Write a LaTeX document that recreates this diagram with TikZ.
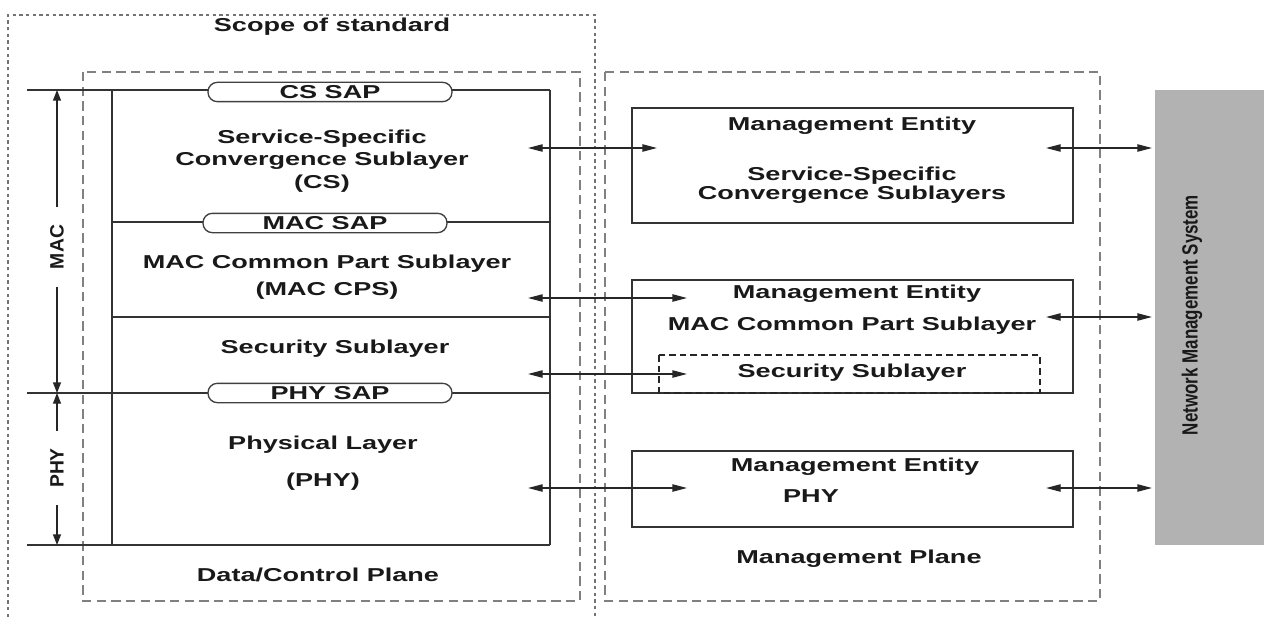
\documentclass[tikz,border=0pt]{standalone}
\usepackage{fontspec}
\setmainfont{Liberation Sans}
\newfontfamily\wideface{Liberation Sans}[FakeStretch=1.45]
\newfontfamily\narrowface{Liberation Sans}[FakeStretch=0.77]
\usetikzlibrary{arrows.meta}

\begin{document}
\begin{tikzpicture}[x=0.75pt,y=0.75pt,yscale=-1,xscale=1,
  txt/.style={inner sep=0.75pt,align=center,text=black!90,font=\wideface\bfseries\fontsize{14}{17}\selectfont},
  sap/.style={txt,draw=black!75,fill=white,line width=1pt,rounded corners=7pt,minimum width=183pt,minimum height=14.5pt,inner sep=0pt},
  dimlbl/.style={rotate=90,inner xsep=13pt,inner ysep=0pt,text=black!90,font=\bfseries\fontsize{14.5}{17}\selectfont},
  nmstxt/.style={rotate=90,inner sep=0.75pt,text=black!90,font=\narrowface\bfseries\fontsize{16.5}{19}\selectfont},
  scopeline/.style={draw=black!55,line width=2.2pt,dash pattern=on 2.5pt off 2.5pt},
  planeline/.style={draw=black!50,line width=1.4pt,dash pattern=on 7pt off 4pt},
  layer/.style={draw=black!80,line width=1.3pt},
  edge/.style={draw=black!80,line width=2.2pt},
  mebox/.style={draw=black!80,line width=1.6pt},
  secbox/.style={draw=black!85,line width=1.3pt,dash pattern=on 5pt off 3pt},
  harr/.style={draw=black!85,line width=1pt,{Triangle[length=11pt,width=5.5pt]}-{Triangle[length=11pt,width=5.5pt]}},
  varr/.style={draw=black!85,line width=1pt,-{Triangle[length=8pt,width=6pt]}}
]
\useasboundingbox (0,0) rectangle (1264,617);

%Scope of standard
\draw[scopeline] (8,617) -- (8,15) -- (595,15) -- (595,617);
\node[txt] (scope) at (332,27) {Scope of standard};

%Planes
\draw[planeline] (83,72) rectangle (580,601);
\draw[planeline] (605,72) rectangle (1100,601);

%Layer stack
\draw[layer] (27,90) -- (550,90);
\draw[layer] (112,222) -- (550,222);
\draw[layer] (112,317) -- (550,317);
\draw[layer] (27,393) -- (550,393);
\draw[layer] (27,545) -- (550,545);
\draw[edge] (112,90) -- (112,545);
\draw[edge] (550,90) -- (550,545);

%SAPs
\node[sap] (cssap) at (330,92) {CS SAP};
\node[sap] (macsap) at (325,223) {MAC SAP};
\node[sap] (physap) at (330,393) {PHY SAP};

% Text Node
\node[txt] (cs) at (322,161) {Service-Specific\\Convergence Sublayer\\(CS)};
\node[txt] (cps) at (327,277) {MAC Common Part Sublayer\\[3pt](MAC CPS)};
\node[txt] (sec) at (335,349) {Security Sublayer};
\node[txt] (phy) at (323,463) {Physical Layer\\[11pt](PHY)};
\node[txt] (dcp) at (318,575) {Data/Control Plane};

%MAC and PHY extent
\node[dimlbl] (mac) at (57,247) {MAC};
\node[dimlbl] (phylbl) at (57,468) {PHY};
\coordinate (macT) at (57,90);
\coordinate (macB) at (57,393);
\coordinate (phyT) at (57,393);
\coordinate (phyB) at (57,545);
\draw[varr] (mac.east) -- (macT);
\draw[varr] (mac.west) -- (macB);
\draw[varr] (phylbl.east) -- (phyT);
\draw[varr] (phylbl.west) -- (phyB);

%Management entities
\draw[mebox] (632,108) rectangle (1073,223);
\draw[mebox] (632,280) rectangle (1073,393);
\draw[secbox] (659,355) rectangle (1040,393);
\draw[mebox] (632,451) rectangle (1073,527);

% Text Node
\node[txt] (me1) at (852,126) {Management Entity};
\node[txt] (mecs) at (852,185) {Service-Specific\\[-3pt]Convergence Sublayers};
\node[txt] (me2) at (857,294) {Management Entity};
\node[txt] (mecps) at (852,326) {MAC Common Part Sublayer};
\node[txt] (mesec) at (852,373) {Security Sublayer};
\node[txt] (me3) at (855,467) {Management Entity};
\node[txt] (mephy) at (811,496) {PHY};
\node[txt] (mp) at (859,559) {Management Plane};

%Network management system
\fill[black!30] (1155,90) rectangle (1264,545);
\node[nmstxt] (nms) at (1192,315) {Network Management System};

%Plane to plane
\coordinate (dL1) at (528,148);
\coordinate (mL1) at (657,148);
\coordinate (dL2) at (528,298);
\coordinate (mL2) at (687,298);
\coordinate (dL3) at (528,374);
\coordinate (mL3) at (687,374);
\coordinate (dL4) at (528,488);
\coordinate (mL4) at (687,488);
\draw[harr] (dL1) -- (mL1);
\draw[harr] (dL2) -- (mL2);
\draw[harr] (dL3) -- (mL3);
\draw[harr] (dL4) -- (mL4);

%Entity to system
\coordinate (mR1) at (1046,148);
\coordinate (nR1) at (1152,148);
\coordinate (mR2) at (1046,317);
\coordinate (nR2) at (1152,317);
\coordinate (mR3) at (1046,488);
\coordinate (nR3) at (1152,488);
\draw[harr] (mR1) -- (nR1);
\draw[harr] (mR2) -- (nR2);
\draw[harr] (mR3) -- (nR3);

\end{tikzpicture}
\end{document}
